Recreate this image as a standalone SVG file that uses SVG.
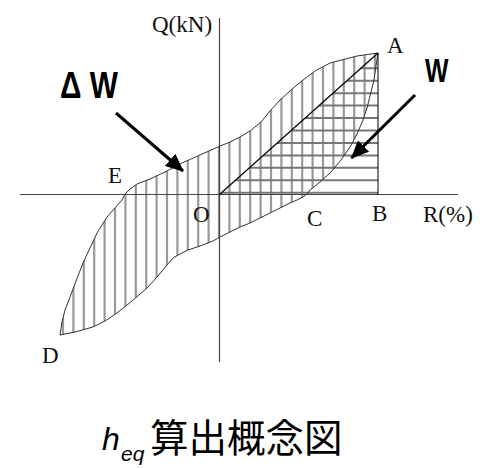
<svg xmlns="http://www.w3.org/2000/svg" width="491" height="469" viewBox="0 0 491 469">
<style>
.lbl{font-family:"Liberation Serif","Times New Roman",serif;font-size:23px;fill:#111}
.big{font-family:"Liberation Sans",Arial,sans-serif;font-weight:bold;fill:#000}
.vh{stroke:#999;stroke-width:2.2}
.hh{stroke:#777;stroke-width:2}
.ax{stroke:#444;stroke-width:1.2;fill:none}
.arr{stroke:#000;stroke-width:3;fill:none;marker-end:url(#ah)}
</style>
<defs>
<path id="loop" d="M378,53 L357,56 L330,63 L315,71 L303,80 L291,90 L280,100 L270,111 L261,122 L250,131 L240,137 L230,142 L219,146.5 L200,155 L182,163 L167,171 L150,179 L137,184 L130,189 L125,194 L122,200 L107,217 L97,233 L90,248 L83,263 L76,281 L70,297 L65,310 L62,322 L60,335 L75,332 L93,327 L105,321 L117,313 L132,301 L147,288 L158,276 L167,265 L173,258 L180,254 L188,250 L200,246 L213,241 L220,237 L230,232 L240,227 L250,223 L260,218 L270,213 L280,208 L290,203 L297,200 L303,197 L307,194 L310,190 L320,182 L330,173 L341,160 L350,147 L357,134 L363,120 L367,108 L370,96 L374,80 L376,66 L378,53 Z"/>
<clipPath id="cl"><use href="#loop"/></clipPath>
<clipPath id="ct"><polygon points="219.5,194.5 378,53 378,194.5"/></clipPath>
<marker id="ah" markerUnits="userSpaceOnUse" markerWidth="18" markerHeight="16" refX="17" refY="8" orient="auto" viewBox="0 0 18 16"><path d="M0,0 L18,8 L0,16 Z" fill="#000"/></marker>
</defs>
<g id="hatch-dw" clip-path="url(#cl)">
<path class="vh" d="M63,40V360M73.4,40V360M83.8,40V360M94.2,40V360M104.6,40V360M115,40V360M125.4,40V360M135.8,40V360M146.2,40V360M156.6,40V360M167,40V360M177.4,40V360M187.8,40V360M198.2,40V360M208.6,40V360M219,40V360M229.4,40V360M239.8,40V360M250.2,40V360M260.6,40V360M271,40V360M281.4,40V360M291.8,40V360M302.2,40V360M312.6,40V360M323,40V360M333.4,40V360M343.8,40V360M354.2,40V360M364.6,40V360M375,40V360"/>
</g>
<g id="hatch-w" clip-path="url(#ct)">
<path class="hh" d="M215,68.3H380M215,80.7H380M215,93.2H380M215,105.6H380M215,118.1H380M215,130.5H380M215,142.9H380M215,155.4H380M215,167.8H380M215,180.3H380M215,192.7H380"/>
</g>
<g id="axes">
<line class="ax" x1="219.5" y1="18" x2="219.5" y2="362"/>
<line class="ax" x1="20" y1="194.5" x2="458" y2="194.5"/>
</g>
<g id="curves">
<use href="#loop" fill="none" stroke="#333" stroke-width="1"/>
<line x1="219.5" y1="194.5" x2="378" y2="53" stroke="#000" stroke-width="1.2"/>
<line x1="378" y1="53" x2="378" y2="194.5" stroke="#000" stroke-width="1"/>
</g>
<g id="connectors">
<line class="arr" x1="116" y1="113" x2="183" y2="171"/>
<line class="arr" x1="415" y1="95" x2="351.5" y2="158"/>
</g>
<g id="labels">
<text class="lbl" x="152" y="32">Q(kN)</text>
<text class="lbl" x="387" y="53">A</text>
<text class="lbl" x="108" y="183">E</text>
<text class="lbl" x="193" y="222">O</text>
<text class="lbl" x="307" y="226">C</text>
<text class="lbl" x="372" y="221">B</text>
<text class="lbl" x="423" y="222">R(%)</text>
<text class="lbl" x="42" y="363">D</text>
<text class="big" x="60" y="98" font-size="36" textLength="58" lengthAdjust="spacingAndGlyphs">Δ W</text>
<text class="big" x="425" y="82" font-size="33" textLength="23.5" lengthAdjust="spacingAndGlyphs">W</text>
</g>
<g id="title">
<text x="102" y="450" font-family="Liberation Sans,Arial,sans-serif" font-style="italic" font-size="32" fill="#000">h</text>
<text x="121" y="461" font-family="Liberation Sans,Arial,sans-serif" font-style="italic" font-size="21" fill="#000">eq</text>
<text x="150" y="452" font-family="Noto Sans CJK JP,Noto Sans CJK SC,sans-serif" font-size="38.5" fill="#000">算出概念図</text>
</g>
</svg>
